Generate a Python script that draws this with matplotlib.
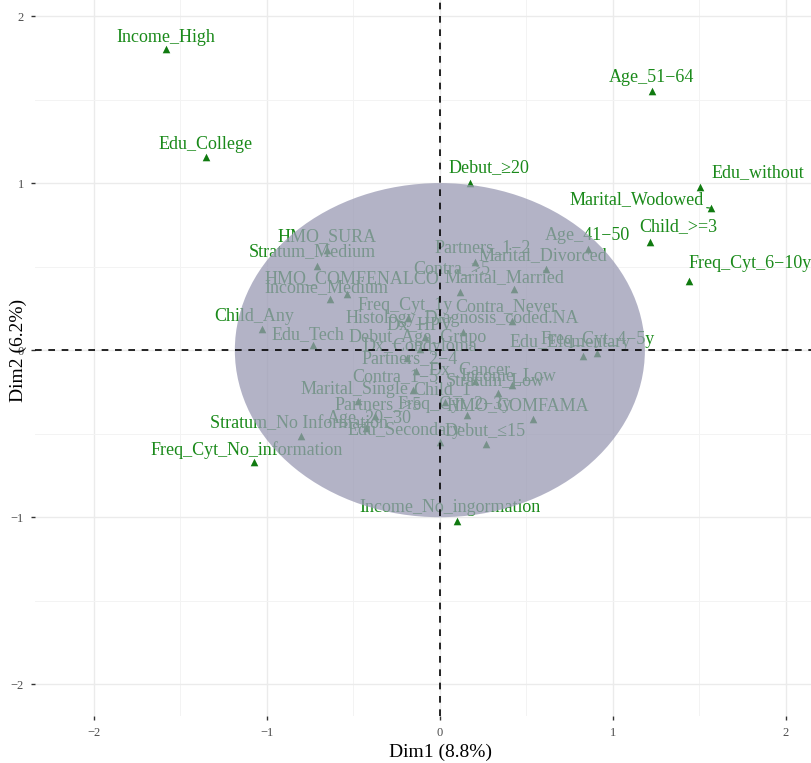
import numpy as np
import matplotlib.pyplot as plt
from matplotlib.patches import Ellipse
from matplotlib.ticker import MultipleLocator

plt.rcParams["font.family"] = ["Liberation Serif", "DejaVu Serif"]

# category coordinates on the first two MCA dimensions
categories = [
    "Income_High", "Edu_College", "Age_51−64", "Debut_≥20", "Edu_without",
    "Marital_Wodowed", "Child_>=3", "Freq_Cyt_6−10y", "Age_41−50", "Child_Any",
    "Stratum_No Information", "Freq_Cyt_No_information", "Income_No_ingormation",
    "HMO_SURA", "Stratum_Medium", "HMO_COMFENALCO", "Income_Medium", "Edu_Tech",
    "Partners_1−2", "Marital_Divorced", "Contra_>5", "Marital_Married",
    "Freq_Cyt_1y", "Contra_Never", "Histology_Diagnosis_coded.NA", "Dx_HPV",
    "Debut_Age_Grupo", "Dx_Condyloma", "Partners_2−4", "Dx_Cancer", "Income_Low",
    "Stratum_Low", "Contra_1−5", "Marital_Single", "Child_1", "Partners_>5",
    "Freq_Cyt_2−3y", "HMO_COMFAMA", "Age_20−30", "Edu_Secondary", "Debut_≤15",
    "Edu_Elementary", "Freq_Cyt_4−5y",
]
dim1 = [
    -1.584, -1.353, 1.225, 0.173, 1.503,
    1.566, 1.214, 1.439, 0.855, -1.029,
    -0.803, -1.075, 0.098,
    -0.653, -0.711, -0.538, -0.636, -0.734,
    0.202, 0.613, 0.116, 0.428,
    -0.185, 0.416, 0.133, -0.087,
    -0.116, -0.191, -0.139, 0.202, 0.416,
    0.335, -0.156, -0.474, 0.029, -0.376,
    0.156, 0.538, -0.428, 0.000, 0.266,
    0.827, 0.908,
]
dim2 = [
    1.802, 1.156, 1.551, 1.000, 0.976,
    0.850, 0.647, 0.413, 0.605, 0.126,
    -0.515, -0.671, -1.024,
    0.599, 0.503, 0.335, 0.305, 0.030,
    0.527, 0.485, 0.347, 0.365,
    0.192, 0.174, 0.108, 0.078,
    0.006, -0.048, -0.126, -0.186, -0.210,
    -0.257, -0.240, -0.305, -0.311, -0.395,
    -0.389, -0.413, -0.467, -0.551, -0.563,
    -0.036, -0.018,
]

# label placement (pixel offsets from the point, repel-style)
nudge = {
    "Income_High": (0, 12), "Edu_College": (0, 13), "Age_51−64": (0, 14),
    "Debut_≥20": (19, 15), "Edu_without": (58, 14),
    "Marital_Wodowed": (-74, 9), "Child_>=3": (28, 15), "Freq_Cyt_6−10y": (61, 18),
    "Age_41−50": (0, 14), "Child_Any": (-8, 13), "Stratum_No Information": (-2, 13),
    "Freq_Cyt_No_information": (-7, 12), "Income_No_ingormation": (-7, 14),
    "HMO_SURA": (0, 13), "Stratum_Medium": (-5, 14), "HMO_COMFENALCO": (5, 16),
    "Income_Medium": (-3, 12), "Edu_Tech": (-5, 11), "Partners_1−2": (8, 14),
    "Marital_Divorced": (-3, 14), "Contra_>5": (-8, 24), "Marital_Married": (-9, 12),
    "Freq_Cyt_1y": (-3, 13), "Contra_Never": (-6, 14),
    "Histology_Diagnosis_coded.NA": (-1, 14),
    "Dx_HPV": (-5, 12), "Debut_Age_Grupo": (-2, 12), "Dx_Condyloma": (13, 12),
    "Partners_2−4": (-6, 13), "Dx_Cancer": (-5, 12), "Income_Low": (-4, 10),
    "Stratum_Low": (-3, 12), "Contra_1−5": (-18, 14), "Marital_Single": (-3, 12),
    "Child_1": (-3, 12), "Partners_>5": (3, 12), "Freq_Cyt_2−3y": (-12, 11),
    "HMO_COMFAMA": (-15, 14), "Age_20−30": (4, 10), "Edu_Secondary": (-35, 12),
    "Debut_≤15": (-1, 14), "Edu_Elementary": (-13, 14), "Freq_Cyt_4−5y": (1, 14),
}
with_segment = {"Edu_without", "Marital_Wodowed"}

green = "#1a8a1a"

fig = plt.figure(figsize=(8.11, 7.63), dpi=100)
ax = fig.add_axes([35 / 811, 47 / 763, 1 - 35 / 811, 1 - 47 / 763])

ax.scatter(dim1, dim2, marker="^", s=30, color="#107a10", linewidths=0, zorder=3)
px2pt = 72 / 100
for name, x, y in zip(categories, dim1, dim2):
    dx, dy = nudge.get(name, (0, 12))
    arrow = dict(arrowstyle="-", color=green, lw=0.9, shrinkA=8, shrinkB=3) \
        if name in with_segment else None
    ax.annotate(name, (x, y), xytext=(dx * px2pt, dy * px2pt),
                textcoords="offset points", ha="center", va="center",
                fontsize=13, color=green, zorder=3, arrowprops=arrow)

# confidence region
ax.add_patch(Ellipse((0, 0), 2.37, 2.0, facecolor="#9a9ab4", alpha=0.75,
                     edgecolor="none", zorder=4))

ax.axhline(0, color="black", lw=1.2, ls=(0, (4, 4)), zorder=5)
ax.axvline(0, color="black", lw=1.2, ls=(0, (4, 4)), zorder=5)

ax.set_xlim(-2.34, 2.145)
ax.set_ylim(-2.19, 2.096)
ax.xaxis.set_major_locator(MultipleLocator(1))
ax.yaxis.set_major_locator(MultipleLocator(1))
ax.xaxis.set_minor_locator(MultipleLocator(0.5))
ax.yaxis.set_minor_locator(MultipleLocator(0.5))
ax.grid(which="major", color="#ebebeb", lw=1.0, zorder=0)
ax.grid(which="minor", color="#f3f3f3", lw=0.7, zorder=0)
ax.set_axisbelow(True)
for s in ax.spines.values():
    s.set_visible(False)
ax.tick_params(which="major", length=3, width=1, color="#333333",
               labelsize=9, labelcolor="#4d4d4d", pad=5)
ax.tick_params(which="minor", length=0)

fig.text(440 / 811, 1 - 752 / 763, "Dim1 (8.8%)", fontsize=14,
         ha="center", va="center")
fig.text(18 / 811, 1 - 350 / 763, "Dim2 (6.2%)", fontsize=14,
         rotation=90, ha="center", va="center")

fig.savefig("out.png", dpi=100)
